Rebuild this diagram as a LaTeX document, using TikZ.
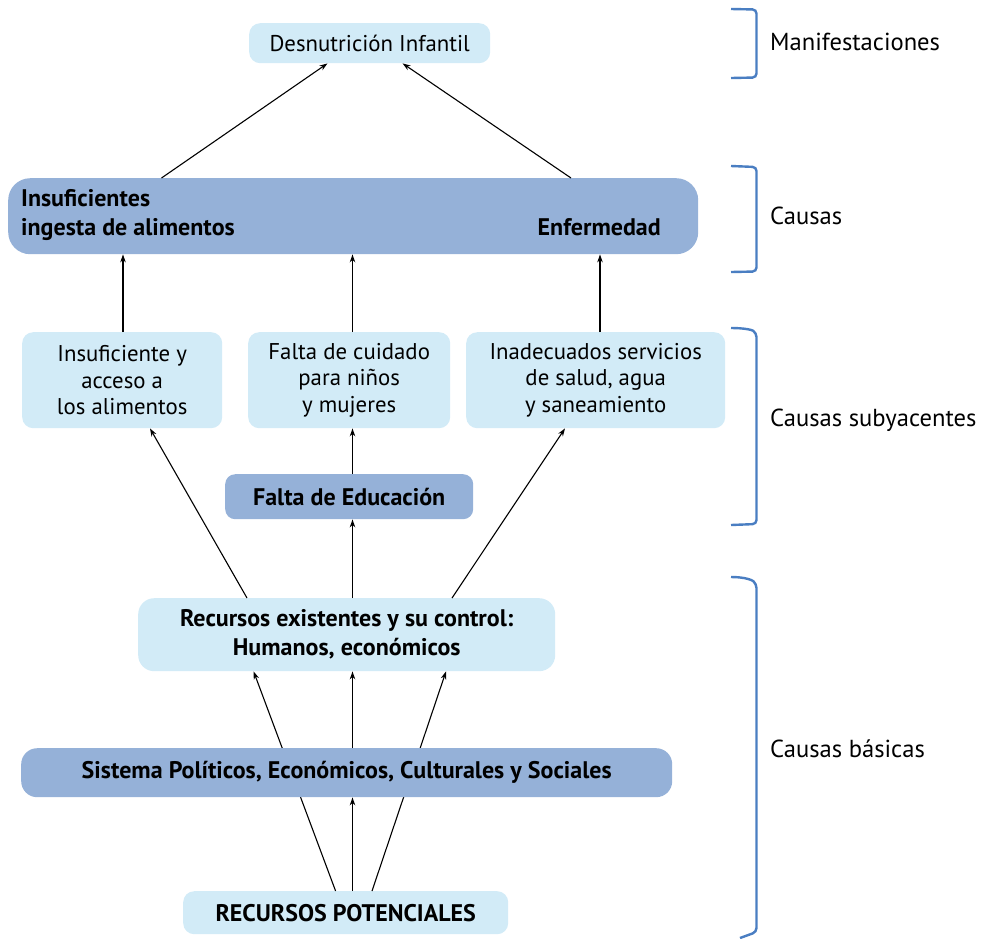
\documentclass[tikz,border=0pt]{standalone}
\usepackage{fontspec}
\setmainfont{PT Sans}
\usetikzlibrary{arrows.meta}
\definecolor{lightbox}{HTML}{D2EBF7}
\definecolor{darkbox}{HTML}{95B1D8}
\definecolor{brack}{HTML}{4A7EC2}
\tikzset{
  boxbase/.style={anchor=north west, inner sep=0pt, align=center, text=black},
  lightnode/.style={boxbase, fill=lightbox, rounded corners=11pt},
  darknode/.style={boxbase, fill=darkbox, rounded corners=13pt},
  normaltext/.style={font=\fontsize{22.8}{26.5}\selectfont},
  boldtext/.style={font=\fontsize{24}{29}\selectfont\bfseries},
  sidelabel/.style={anchor=west, inner sep=0pt, font=\fontsize{24.6}{28}\selectfont},
  conn/.style={line width=1.1pt, -{Stealth[length=8pt,width=5.5pt]}},
  bracketline/.style={draw=brack, line width=2.4pt, rounded corners=4pt}
}
\begin{document}
\begin{tikzpicture}[x=1pt,y=-1pt]
\useasboundingbox (0,0) rectangle (982,938);

% top
\node[lightnode, normaltext, minimum width=241pt, minimum height=40pt] (desn) at (249,23) {Desnutrición Infantil};

% causas big box
\node[darknode, rounded corners=22pt, minimum width=690pt, minimum height=76pt] (big) at (8,178) {};
\node[anchor=base west, inner sep=0pt, boldtext] (insuf) at (21,206.5) {Insuficientes};
\node[anchor=base west, inner sep=0pt, boldtext] (ingesta) at (21,235) {ingesta de alimentos};
\node[anchor=base east, inner sep=0pt, boldtext] (enf) at (661,235) {Enfermedad};

% row of three
\node[lightnode, normaltext, minimum width=200pt, minimum height=96pt] (b1) at (22,332) {Insuficiente y\\acceso a\\los alimentos};
\node[lightnode, normaltext, minimum width=202pt, minimum height=96pt] (b2) at (248,332) {Falta de cuidado\\para niños\\y mujeres};
\node[lightnode, normaltext, minimum width=259pt, minimum height=96pt] (b3) at (466,332) {Inadecuados servicios\\de salud, agua\\y saneamiento};

% falta de educacion
\node[darknode, boldtext, rounded corners=10pt, minimum width=248pt, minimum height=45pt] (edu) at (225,474) {Falta de Educación};

% recursos existentes
\node[lightnode, boldtext, rounded corners=16pt, minimum width=417pt, minimum height=73pt] (rec) at (138,598) {Recursos existentes y su control:\\Humanos, económicos};

% recursos potenciales
\node[lightnode, boldtext, minimum width=325pt, minimum height=43pt] (pot) at (183,891) {RECURSOS POTENCIALES};

% lines from potenciales to recursos (pass behind sistema)
\draw[conn] ([xshift=152.6pt]pot.north west) -- ([xshift=115.6pt]rec.south west);
\draw[conn] ([xshift=189pt]pot.north west) -- ([xshift=308pt]rec.south west);

% sistema
\node[darknode, boldtext, rounded corners=16pt, minimum width=651pt, minimum height=49pt] (sis) at (21,748) {Sistema Políticos, Económicos, Culturales y Sociales};

% connectors
\draw[conn] ([xshift=153.5pt]big.north west) -- ([xshift=78.5pt]desn.south west);
\draw[conn] ([xshift=563pt]big.north west) -- ([xshift=153.6pt]desn.south west);

\draw[conn] ([xshift=101pt]b1.north west) -- ([xshift=101pt]b1.north west |- big.south);
\draw[conn] ([xshift=104.5pt]b2.north west) -- ([xshift=104.5pt]b2.north west |- big.south);
\draw[conn] ([xshift=134pt]b3.north west) -- ([xshift=134pt]b3.north west |- big.south);

\draw[conn] ([xshift=127.5pt]edu.north west) -- ([xshift=127.5pt]edu.north west |- b2.south);
\draw[conn] ([xshift=214.5pt]rec.north west) -- ([xshift=214.5pt]rec.north west |- edu.south);
\draw[conn] ([xshift=109pt]rec.north west) -- ([xshift=128pt]b1.south west);
\draw[conn] ([xshift=314pt]rec.north west) -- ([xshift=99pt]b3.south west);

\draw[conn] ([xshift=331.5pt]sis.north west) -- ([xshift=214.5pt]rec.south west);
\draw[conn] ([xshift=169.5pt]pot.north west) -- ([xshift=169.5pt]pot.north west |- sis.south);

% brackets
\coordinate (k1a) at (731,9);
\coordinate (k1b) at (731,78);
\draw[bracketline] (k1a) -- (756.5,9.5) -- (756.5,77.5) -- (k1b);
\coordinate (k2a) at (731,166);
\coordinate (k2b) at (731,272);
\draw[bracketline] (k2a) -- (756.5,167) -- (756.5,271.5) -- (k2b);
\coordinate (k3a) at (731,328);
\coordinate (k3b) at (731,525);
\draw[bracketline] (k3a) .. controls (745,328) and (752,330) .. (756.5,333) -- (756.5,524) -- (k3b);
\coordinate (k4a) at (731,577);
\coordinate (k4b) at (740,938);
\draw[bracketline] (k4a) .. controls (745,577) and (752,580) .. (756.5,584) -- (756.5,932) -- (k4b);

\node[sidelabel] (l1) at (770,42) {Manifestaciones};
\node[sidelabel] (l2) at (770,216) {Causas};
\node[sidelabel] (l3) at (770,420) {Causas subyacentes};
\node[sidelabel] (l4) at (770,749) {Causas básicas};
\end{tikzpicture}
\end{document}
